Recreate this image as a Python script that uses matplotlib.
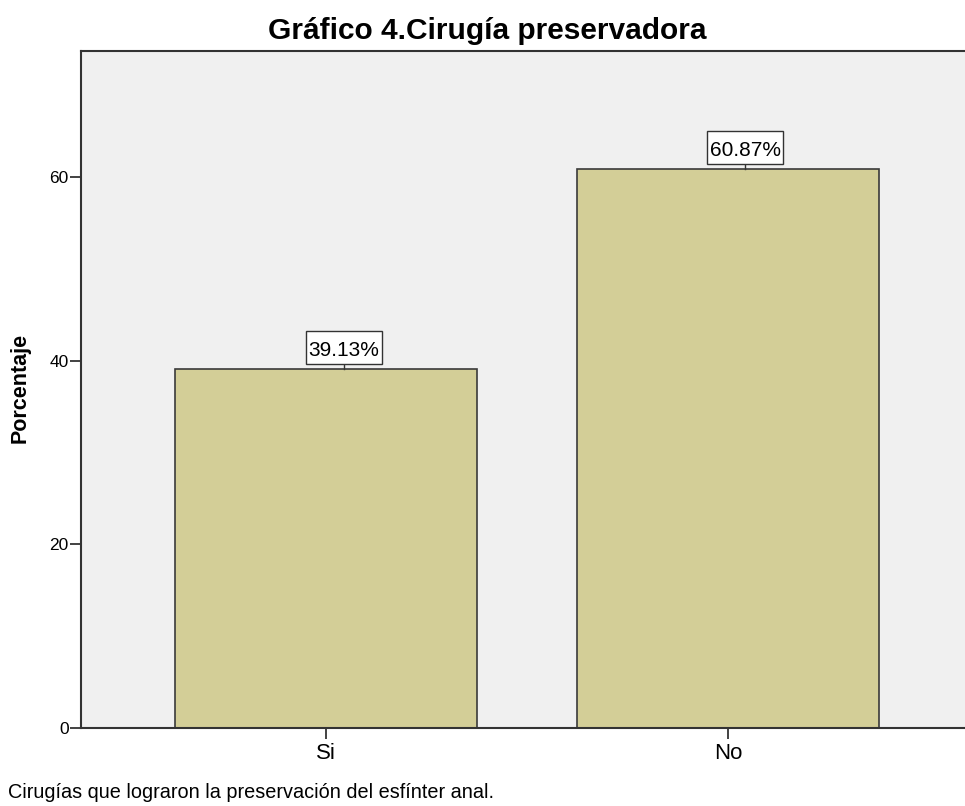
import matplotlib
matplotlib.use("Agg")
import matplotlib.pyplot as plt
from matplotlib.transforms import offset_copy, Affine2D, ScaledTranslation
from matplotlib.patches import Rectangle

categories = ["Si", "No"]
values = [39.13, 60.87]
labels = ["39.13%", "60.87%"]
yticks = [0, 20, 40, 60]

plt.rcParams['font.family'] = ['Liberation Sans', 'DejaVu Sans']

W, H = 965, 806
fig = plt.figure(figsize=(W / 100, H / 100), dpi=100)
ax = fig.add_axes([81 / W, 1 - 728 / H, (973 - 81) / W, (728 - 51) / H])
ax.set_facecolor('#F0F0F0')

x = list(range(len(categories)))
ax.bar(x, values, width=0.75, color='#D3CE97', edgecolor='#3a3a3a', linewidth=1.2, zorder=2)
ax.set_xlim(-0.61, 1.61)
ax.set_ylim(0, 73.7)
ax.set_xticks(x)
ax.set_xticklabels(categories, fontsize=16)
ax.set_yticks(yticks)
ax.set_yticklabels([str(t) for t in yticks], fontsize=12.5)
ax.tick_params(axis='x', length=8, width=1.2, color='#222222', pad=3)
ax.tick_params(axis='y', length=8, width=1.2, color='#222222', pad=1)
for s in ['left', 'bottom', 'top', 'right']:
    ax.spines[s].set_color('#333333')
    ax.spines[s].set_linewidth(1.5)

# value labels: boxed, offset slightly right of bar centre (as in the source)
DX, GAP, BW, BH = 17.5, 5, 76, 33
trans_line = offset_copy(ax.transData, fig=fig, x=DX, y=0, units='dots')
for xi, v, lab in zip(x, values, labels):
    ax.plot([xi, xi], [v, v + GAP / 9.19], transform=trans_line, color='#333333',
            lw=1, zorder=3, clip_on=False)
    tr = Affine2D().translate(DX - BW / 2, GAP) + ScaledTranslation(xi, v, ax.transData)
    ax.add_patch(Rectangle((0, 0), BW, BH, transform=tr, fc='white', ec='#333333',
                           lw=1, zorder=4, clip_on=False))
    ax.annotate(lab, xy=(xi, v), xytext=(DX, GAP + 8), textcoords='offset pixels',
                ha='center', va='baseline', fontsize=15, zorder=5)

fig.text(487 / W, 1 - 31 / H, "Gráfico 4.Cirugía preservadora", ha='center', va='center',
         fontsize=21.5, fontweight='bold')
fig.text(20 / W, 1 - 388 / H, "Porcentaje", rotation=90, ha='center', va='center',
         fontsize=15.5, fontweight='bold')
fig.text(8 / W, 1 - 793 / H, "Cirugías que lograron la preservación del esfínter anal.",
         ha='left', va='center', fontsize=14.3)

fig.savefig("out.png", dpi=100)
